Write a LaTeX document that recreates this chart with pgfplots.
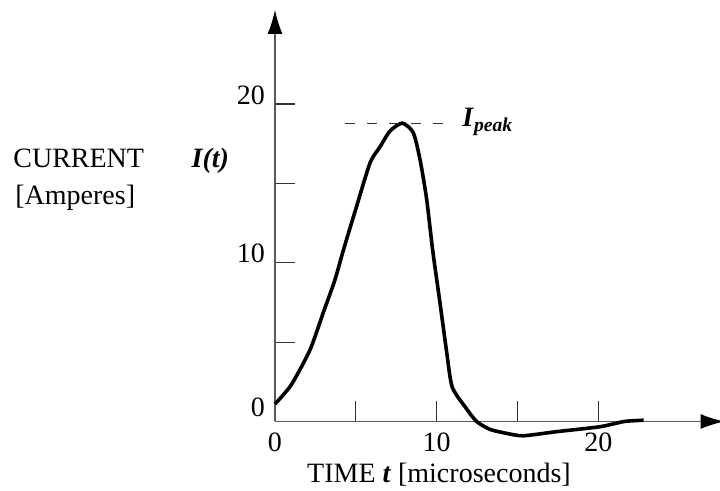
\documentclass[border=0pt]{standalone}
\usepackage{fontspec}
\setmainfont{Liberation Serif}
\usepackage{pgfplots}
\pgfplotsset{compat=1.18}
\usetikzlibrary{arrows.meta}

\newcommand{\lbl}{\fontsize{14}{17}\selectfont}

\pgfplotstableread{
t     I
0.00  1.10
1.00  2.30
2.16  4.50
3.00  6.90
3.70  8.90
4.23  10.8
5.00  13.4
5.88  16.3
6.49  17.3
7.11  18.3
7.87  18.8
8.55  18.2
8.97  16.5
9.38  14.0
9.75  10.8
10.20 7.50
10.60 4.50
10.95 2.20
11.75 0.93
12.47 0.00
13.30 -0.50
14.33 -0.75
15.36 -0.90
17.42 -0.64
20.10 -0.33
21.60 0.00
22.80 0.08
}\current

\begin{document}
\begin{tikzpicture}
\begin{axis}[
    x=8.085pt, y=7.935pt,
    xmin=0, xmax=27.8, ymin=0, ymax=25.93,
    axis lines=left,
    axis line style={black!65, line width=0.6pt, -{Latex[length=12pt,width=7.5pt,color=black]}},
    clip=false,
    tick align=inside,
    major tick length=10pt,
    tick style={black!80, line width=0.6pt},
    xtick={0,5,10,15,20}, xticklabels={0,,10,,20},
    ytick={0,5,10,15,20}, yticklabels={\raisebox{2.5pt}{0},,10,,20},
    /pgf/number format/assume math mode=true,
    ticklabel style={font=\lbl},
    xticklabel style={anchor=base, yshift=-15.25pt},
    yticklabel style={anchor=base east, xshift=-1.5pt},
]
\addplot[black, line width=1.8pt, smooth, tension=0.4] table[x=t, y=I] {\current};
\draw[black!80, line width=0.6pt, dash pattern=on 5pt off 6pt] (axis cs:4.33,18.8) -- (axis cs:11.13,18.8);
\node[anchor=base west, inner sep=0pt, font=\lbl] at (axis cs:11.56,18.56)
    {\textbf{\textit{I}}\textsubscript{\textbf{\textit{peak}}}};
\node[anchor=base, inner sep=0pt, font=\lbl] at (axis cs:10.14,0) [yshift=-30.75pt]
    {TIME \textbf{\textit{t}} [microseconds]};
\coordinate (O) at (axis cs:0,0);
\end{axis}
\node[anchor=base west, inner sep=0pt, font=\lbl] at ([xshift=-131pt, yshift=126.75pt]O)
    {CURRENT\hspace{1.7em}\textbf{\textit{I(t)}}};
\node[anchor=base west, inner sep=0pt, font=\lbl] at ([xshift=-130pt, yshift=108.25pt]O)
    {[Amperes]};
\pgfresetboundingbox
\path[use as bounding box] (O) ++(-137.5pt,-34.75pt) rectangle ++(360pt,245.5pt);
\end{tikzpicture}
\end{document}
